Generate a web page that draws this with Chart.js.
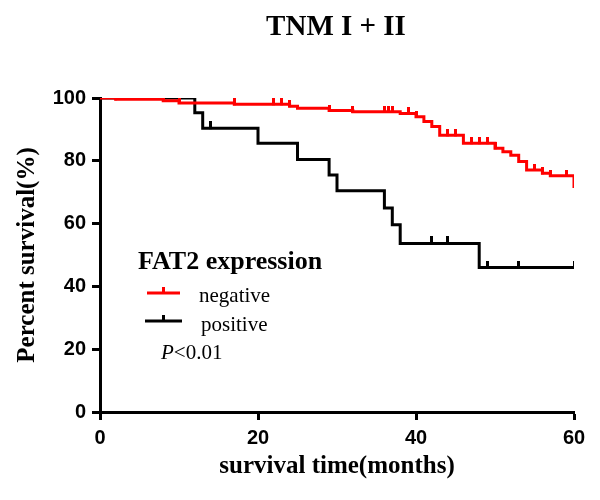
<!DOCTYPE html>
<html>
<head>
<meta charset="utf-8">
<script src="https://cdn.jsdelivr.net/npm/chart.js@4/dist/chart.umd.min.js"></script>
<style>
  html, body { margin: 0; padding: 0; background: #fff; }
  #wrap { width: 600px; height: 500px; }
</style>
</head>
<body>
<div id="wrap"><canvas id="c" width="600" height="500"></canvas></div>
<script>
// ---- data ----
const chartTitle = 'TNM I + II';
const legendTitle = 'FAT2 expression';
const seriesNames = ['negative', 'positive'];
const pText = '<0.01';

// FAT2 negative: step times (months) and survival (%) after each drop
const negTimes = [0, 2, 8, 10, 17, 24, 25, 29, 32, 38, 40, 41, 42, 43, 46, 50, 51, 52, 53, 54, 56, 57, 60];
const negSurv  = [100, 99.6, 99.1, 98.4, 98.0, 97.4, 96.7, 96.0, 95.6, 95.1, 94.0, 92.5, 90.9, 88.1, 85.6, 84.0, 82.9, 81.8, 79.8, 77.1, 76.0, 75.2, 71.3];
const negCensor = [2, 8, 10, 17, 22, 23, 24, 29, 32, 36, 36.5, 37, 39, 40, 44, 45, 47, 48, 49, 50, 55, 56, 57, 59];

// FAT2 positive
const posTimes = [0, 12, 13, 20, 25, 29, 30, 36, 37, 38, 48, 60];
const posSurv  = [100, 95.3, 90.4, 85.6, 80.4, 75.5, 70.5, 65.0, 59.6, 53.7, 46.0, 46.0];
const posCensor = [14, 42, 44, 49, 53, 60];

const xTicks = [0, 20, 40, 60];
const yTicks = [0, 20, 40, 60, 80, 100];

// ---- helpers ----
const RED = '#ff0000';
const BLACK = '#000000';
const SERIF = '"Liberation Serif", "Times New Roman", serif';
const SANS = '"Liberation Sans", Arial, sans-serif';

function toPoints(ts, ss) { return ts.map((t, i) => ({ x: t, y: ss[i] })); }
function survAt(ts, ss, t) {
  let v = ss[0];
  for (let i = 0; i < ts.length; i++) { if (ts[i] <= t) v = ss[i]; }
  return v;
}
function censorPoints(cs, ts, ss) { return cs.map(t => ({ x: t, y: survAt(ts, ss, t) })); }
function tickImage(color, up, w) {
  const c = document.createElement('canvas');
  c.width = w; c.height = up * 2;
  const g = c.getContext('2d');
  g.fillStyle = color;
  g.fillRect(0, 0, w, up + 1);
  return c;
}

const overlay = {
  id: 'overlay',
  afterDraw(chart) {
    const ctx = chart.ctx;
    const a = chart.chartArea;
    ctx.save();
    // title
    ctx.fillStyle = '#000';
    ctx.font = 'bold 29px ' + SERIF;
    ctx.textAlign = 'center';
    ctx.textBaseline = 'alphabetic';
    ctx.fillText(chartTitle, (a.left + a.right) / 2 - 1, 35);

    // legend
    ctx.textAlign = 'left';
    ctx.font = 'bold 26px ' + SERIF;
    ctx.fillText(legendTitle, 138, 269);

    const drawSample = (x0, x1, y, color, up) => {
      ctx.strokeStyle = color;
      ctx.lineWidth = 3;
      ctx.beginPath();
      ctx.moveTo(x0, y); ctx.lineTo(x1, y);
      ctx.moveTo((x0 + x1) / 2, y); ctx.lineTo((x0 + x1) / 2, y - up);
      ctx.stroke();
    };
    drawSample(147, 180, 293, RED, 6);
    drawSample(145, 182, 321, BLACK, 6);

    ctx.fillStyle = '#000';
    ctx.font = '21px ' + SERIF;
    ctx.fillText(seriesNames[0], 199, 302);
    ctx.fillText(seriesNames[1], 201, 331);

    ctx.font = 'italic 21px ' + SERIF;
    ctx.fillText('P', 161, 359);
    const pw = ctx.measureText('P').width;
    ctx.font = '21px ' + SERIF;
    ctx.fillText(pText, 161 + pw, 359);
    ctx.restore();
  }
};

const axisCommon = {
  border: { display: true, color: BLACK, width: 3 },
  grid: { display: true, drawOnChartArea: false, drawTicks: true, tickLength: 8, tickWidth: 3, tickColor: BLACK, color: BLACK },
};

new Chart(document.getElementById('c'), {
  type: 'line',
  data: {
    datasets: [
      {
        label: seriesNames[0],
        data: toPoints(negTimes, negSurv),
        borderColor: RED, backgroundColor: RED,
        borderWidth: 3, stepped: 'before', pointRadius: 0,
        borderCapStyle: 'butt', borderJoinStyle: 'miter', fill: false
      },
      {
        label: seriesNames[0] + ' censored',
        data: censorPoints(negCensor, negTimes, negSurv),
        showLine: false,
        pointStyle: tickImage(RED, 6, 3),
        pointRadius: 6, pointHoverRadius: 6
      },
      {
        label: seriesNames[1],
        data: toPoints(posTimes, posSurv),
        borderColor: BLACK, backgroundColor: BLACK,
        borderWidth: 3, stepped: 'before', pointRadius: 0,
        borderCapStyle: 'butt', borderJoinStyle: 'miter', fill: false
      },
      {
        label: seriesNames[1] + ' censored',
        data: censorPoints(posCensor, posTimes, posSurv),
        showLine: false,
        pointStyle: tickImage(BLACK, 7, 3),
        pointRadius: 7, pointHoverRadius: 7
      }
    ]
  },
  options: {
    responsive: false,
    animation: false,
    events: [],
    layout: { padding: { left: 0, top: 98, right: 26, bottom: 0 } },
    plugins: { legend: { display: false }, tooltip: { enabled: false }, title: { display: false } },
    scales: {
      x: {
        type: 'linear', min: 0, max: 60,
        ...axisCommon,
        afterBuildTicks(s) { s.ticks = xTicks.map(v => ({ value: v })); },
        afterFit(s) { s.height = 88; },
        ticks: { color: BLACK, padding: 6, font: { family: SANS, size: 20, weight: 'bold' }, maxRotation: 0 },
        title: { display: true, text: 'survival time(months)', color: BLACK, padding: { top: 0, bottom: 18 },
                 font: { family: SERIF, size: 25, weight: 'bold' } }
      },
      y: {
        type: 'linear', min: 0, max: 100,
        ...axisCommon,
        afterBuildTicks(s) { s.ticks = yTicks.map(v => ({ value: v })); },
        afterFit(s) { s.width = 100; },
        ticks: { color: BLACK, padding: 6, font: { family: SANS, size: 20, weight: 'bold' } },
        title: { display: true, text: 'Percent survival(%)', color: BLACK, padding: { top: 13, bottom: 0 },
                 font: { family: SERIF, size: 25, weight: 'bold' } }
      }
    }
  },
  plugins: [overlay]
});
</script>
</body>
</html>
